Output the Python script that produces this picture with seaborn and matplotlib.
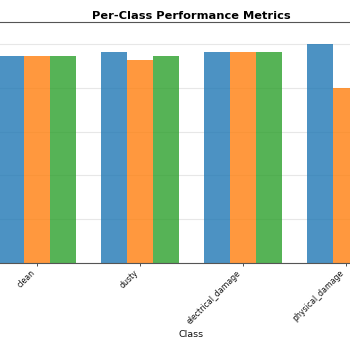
import matplotlib
matplotlib.use("Agg")
import matplotlib.pyplot as plt
import seaborn as sns
import pandas as pd

classes = ["clean", "dusty", "electrical_damage", "physical_damage"]
metrics = ["Precision", "Recall", "F1-Score"]
precision = [0.945, 0.962, 0.965, 1.00]
recall = [0.945, 0.927, 0.965, 0.80]
f1_score = [0.945, 0.944, 0.965, 0.89]
colors = ["#1f77b4", "#ff7f0e", "#2ca02c"]

rows = []
for m, vals in zip(metrics, [precision, recall, f1_score]):
    for c, v in zip(classes, vals):
        rows.append({"Class": c, "Metric": m, "Score": v})
df = pd.DataFrame(rows)

fig = plt.figure(figsize=(3.5, 3.5), dpi=100)
ax = fig.add_axes([-0.3357, 0.2486, 1.7657, 0.6886])
sns.barplot(data=df, x="Class", y="Score", hue="Metric", order=classes,
            hue_order=metrics, palette=colors, saturation=1, width=0.75,
            errorbar=None, alpha=0.8, linewidth=0, legend=False, ax=ax, zorder=2)
ax.set_xlim(-1.5, 4.5)
ax.set_ylim(0, 1.1)
ax.set_yticks([0, 0.2, 0.4, 0.6, 0.8, 1.0])
ax.tick_params(axis="y", labelleft=False, left=False)
ax.grid(axis="y", alpha=0.3, zorder=0)
ax.set_axisbelow(True)
for s in ax.spines.values():
    s.set_color("#555555")
    s.set_linewidth(0.8)
ax.tick_params(axis="x", labelsize=5.6, length=2.5, width=0.6, pad=1.5, colors="#333333")
plt.setp(ax.get_xticklabels(), rotation=45, ha="right", color="#111111")
ax.set_xlabel("Class", fontsize=6.8, labelpad=3, color="#111111")
ax.set_ylabel("")
ax.set_title("Per-Class Performance Metrics", fontsize=8.2, fontweight="bold", pad=2)
fig.savefig("out.png", dpi=100)
